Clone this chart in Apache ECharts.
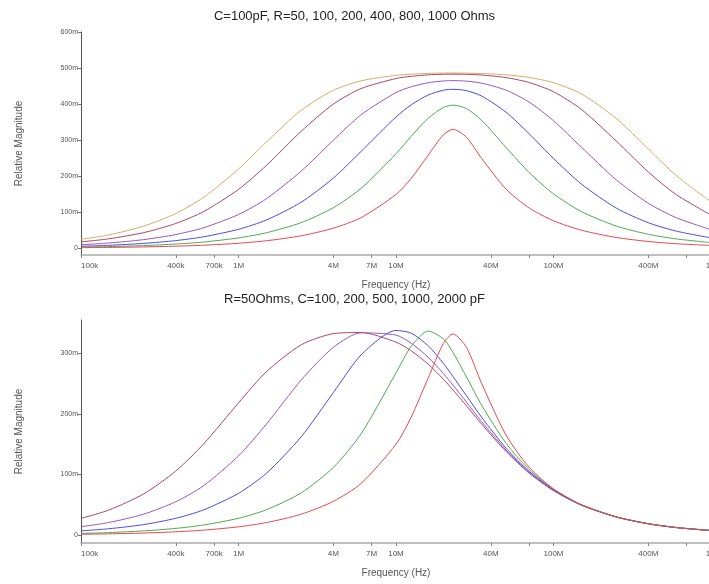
<!DOCTYPE html>
<html><head><meta charset="utf-8">
<script src="https://cdn.jsdelivr.net/npm/echarts@6/dist/echarts.min.js"></script>
<style>html,body{margin:0;padding:0;background:#fff}#c{width:709px;height:584px}</style>
</head><body><div id="c"></div>
<script>
// Frequencies (Hz)
const freqs = [1e5,1.5e5,2.5e5,4e5,6e5,1e6,1.5e6,2.5e6,4e6,6e6,1e7,1.25e7,1.6e7,2e7,2.3e7,2.8e7,3.5e7,5e7,7e7,1e8,1.5e8,2.5e8,4e8,6e8,1e9];

// Top chart: C=100pF, R varies
const topR50   = [0.0014,0.0020,0.0034,0.0055,0.0082,0.0136,0.0205,0.0343,0.0554,0.0847,0.1491,0.1938,0.2578,0.3146,0.3299,0.3080,0.2487,0.1638,0.1117,0.0760,0.0499,0.0297,0.0185,0.0123,0.0074];
const topR100  = [0.0028,0.0043,0.0071,0.0114,0.0170,0.0284,0.0426,0.0708,0.1123,0.1660,0.2619,0.3107,0.3605,0.3905,0.3970,0.3875,0.3547,0.2795,0.2100,0.1507,0.1017,0.0614,0.0385,0.0257,0.0154];
const topR200  = [0.0053,0.0079,0.0132,0.0210,0.0315,0.0523,0.0780,0.1275,0.1945,0.2684,0.3642,0.3980,0.4251,0.4384,0.4410,0.4372,0.4222,0.3772,0.3178,0.2489,0.1783,0.1113,0.0706,0.0474,0.0285];
const topR400  = [0.0095,0.0143,0.0237,0.0379,0.0566,0.0934,0.1369,0.2138,0.2996,0.3702,0.4319,0.4480,0.4591,0.4641,0.4650,0.4636,0.4580,0.4385,0.4055,0.3538,0.2808,0.1898,0.1246,0.0847,0.0513];
const topR800  = [0.0173,0.0259,0.0431,0.0685,0.1014,0.1630,0.2292,0.3243,0.3998,0.4430,0.4709,0.4770,0.4810,0.4827,0.4830,0.4825,0.4806,0.4734,0.4599,0.4342,0.3856,0.2976,0.2114,0.1489,0.0920];
const topR1000 = [0.0245,0.0367,0.0610,0.0962,0.1409,0.2195,0.2943,0.3828,0.4382,0.4645,0.4798,0.4829,0.4850,0.4860,0.4860,0.4858,0.4848,0.4811,0.4739,0.4594,0.4286,0.3603,0.2753,0.2022,0.1284];

// Bottom chart: R=50 Ohms, C varies
const botC100  = [0.0014,0.0021,0.0034,0.0055,0.0082,0.0137,0.0206,0.0345,0.0557,0.0852,0.1500,0.1950,0.2590,0.3165,0.3320,0.3100,0.2500,0.1650,0.1120,0.0765,0.0500,0.0300,0.0186,0.0124,0.0074];
const botC200  = [0.0028,0.0042,0.0070,0.0111,0.0167,0.0278,0.0418,0.0697,0.1116,0.1671,0.2677,0.3117,0.3367,0.3240,0.3014,0.2612,0.2143,0.1515,0.1083,0.0757,0.0504,0.0302,0.0189,0.0126,0.0076];
const botC500  = [0.0070,0.0105,0.0174,0.0278,0.0416,0.0689,0.1018,0.1623,0.2351,0.2973,0.3377,0.3332,0.3126,0.2833,0.2618,0.2301,0.1944,0.1434,0.1052,0.0747,0.0502,0.0302,0.0189,0.0126,0.0076];
const botC1000 = [0.0139,0.0208,0.0346,0.0551,0.0815,0.1307,0.1829,0.2559,0.3099,0.3339,0.3301,0.3166,0.2936,0.2666,0.2476,0.2195,0.1873,0.1402,0.1037,0.0740,0.0499,0.0301,0.0188,0.0126,0.0075];
const botC2000 = [0.0276,0.0413,0.0680,0.1058,0.1504,0.2182,0.2694,0.3140,0.3325,0.3343,0.3185,0.3041,0.2822,0.2573,0.2396,0.2135,0.1832,0.1380,0.1024,0.0733,0.0494,0.0299,0.0187,0.0125,0.0075];

// Tick definitions
const xTickValues  = [1e5,4e5,7e5,1e6,4e6,7e6,1e7,4e7,7e7,1e8,4e8,7e8,1e9];
const xLabelValues = [1e5,4e5,7e5,1e6,4e6,7e6,1e7,4e7,1e8,4e8,1e9];
const xLabelTexts  = ['100k','400k','700k','1M','4M','7M','10M','40M','100M','400M','1G'];
const yTopTicks = [0,0.1,0.2,0.3,0.4,0.5,0.6];
const yBotTicks = [0,0.1,0.2,0.3];

const topTitle = 'C=100pF, R=50, 100, 200, 400, 800, 1000 Ohms';
const botTitle = 'R=50Ohms, C=100, 200, 500, 1000, 2000 pF';

const FONT = '"Liberation Sans", Arial, sans-serif';
const colors = {red:'#e5484c', green:'#4fa854', blue:'#4a4ae6', purple:'#9a55c0', maroon:'#a84860', tan:'#d6ab6a'};

function pairs(vals){ return freqs.map((f,i)=>[f, vals[i]]); }
function xLabelFmt(v){
  for (let i=0;i<xLabelValues.length;i++){ if (Math.abs(v/xLabelValues[i]-1)<1e-6) return xLabelTexts[i]; }
  return '';
}
function yFmt(v){ return Math.abs(v)<1e-9 ? '0' : Math.round(v*1000)+'m'; }

function xAxis(gridIndex){
  return {
    type:'log', logBase:10, gridIndex, min:1e5, max:1e9,
    name:'Frequency (Hz)', nameLocation:'middle', nameGap:25,
    nameTextStyle:{fontFamily:FONT, fontSize:10, color:'#555'},
    axisLine:{show:true, onZero:false, lineStyle:{color:'#aaa', width:1.5}},
    axisTick:{show:true, customValues:xTickValues, length:3, inside:false, lineStyle:{color:'#888'}},
    minorTick:{show:false},
    splitLine:{show:false},
    axisLabel:{customValues:xLabelValues, formatter:xLabelFmt, fontFamily:FONT, fontSize:8, color:'#555', margin:7, hideOverlap:false, alignMinLabel:'left'}
  };
}
function yAxis(gridIndex, min, max, ticks){
  return {
    type:'value', gridIndex, min, max,
    name:'Relative Magnitude', nameLocation:'middle', nameGap:57, nameRotate:90,
    nameTextStyle:{fontFamily:FONT, fontSize:10, color:'#555'},
    axisLine:{show:true, onZero:false, lineStyle:{color:'#555', width:1}},
    axisTick:{show:true, customValues:ticks, length:3, lineStyle:{color:'#777'}},
    splitLine:{show:false},
    axisLabel:{customValues:ticks, formatter:yFmt, fontFamily:FONT, fontSize:7, color:'#555', margin:3}
  };
}
function line(name, data, color, xi){
  return {name, type:'line', xAxisIndex:xi, yAxisIndex:xi, data:pairs(data), showSymbol:false, symbol:'none',
    smooth:0.25, lineStyle:{color, width:1}, itemStyle:{color}, animation:false, clip:true};
}

const chart = echarts.init(document.getElementById('c'), null, {renderer:'canvas'});
chart.setOption({
  backgroundColor:'#fff',
  animation:false,
  title:[
    {text:topTitle, left:'center', top:5, textStyle:{fontFamily:FONT, fontSize:13, fontWeight:'normal', color:'#222'}},
    {text:botTitle, left:'center', top:288, textStyle:{fontFamily:FONT, fontSize:13, fontWeight:'normal', color:'#222'}}
  ],
  grid:[
    {left:81, right:-2, top:32, height:223, outerBoundsMode:'none', containLabel:false},
    {left:81, right:-2, top:320, height:223, outerBoundsMode:'none', containLabel:false}
  ],
  xAxis:[xAxis(0), xAxis(1)],
  yAxis:[yAxis(0,-0.019,0.6,yTopTicks), yAxis(1,-0.013,0.355,yBotTicks)],
  series:[
    line('R=1000', topR1000, colors.tan, 0),
    line('R=800', topR800, colors.maroon, 0),
    line('R=400', topR400, colors.purple, 0),
    line('R=200', topR200, colors.blue, 0),
    line('R=100', topR100, colors.green, 0),
    line('R=50', topR50, colors.red, 0),
    line('C=2000pF', botC2000, colors.maroon, 1),
    line('C=1000pF', botC1000, colors.purple, 1),
    line('C=500pF', botC500, colors.blue, 1),
    line('C=200pF', botC200, colors.green, 1),
    line('C=100pF', botC100, colors.red, 1)
  ]
});
</script></body></html>
